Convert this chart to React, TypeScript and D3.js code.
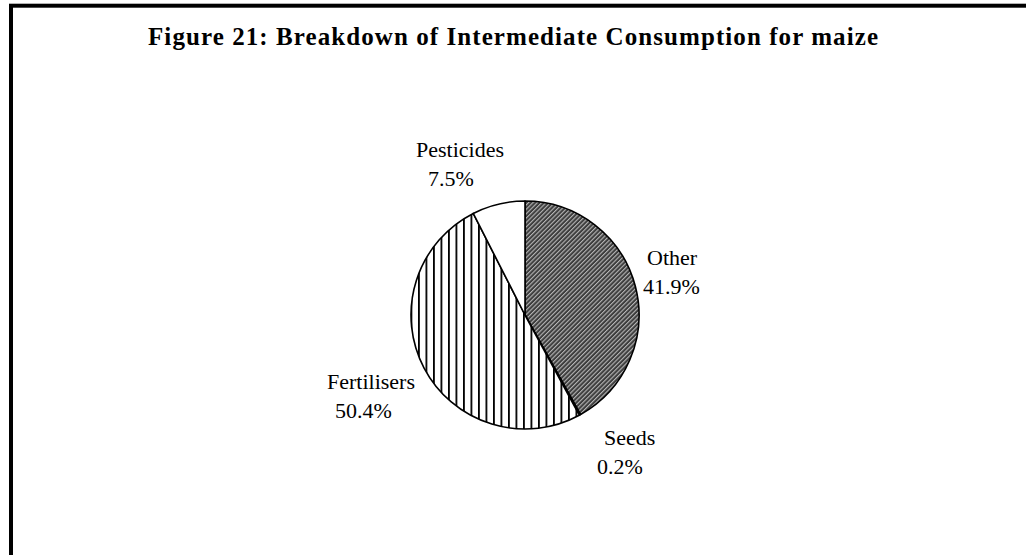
import React from "react";
import * as d3 from "d3";

const TITLE = "Figure 21: Breakdown of Intermediate Consumption for maize";
const categories = ["Other", "Seeds", "Fertilisers", "Pesticides"];
const values = [41.9, 0.2, 50.4, 7.5];
const valueLabels = ["41.9%", "0.2%", "50.4%", "7.5%"];

// layout of the data labels (text positions only)
const LABEL_LAYOUT: Record<string, { x1: number; x2: number; y: number }> = {
  Other: { x1: 647, x2: 643, y: 265 },
  Seeds: { x1: 604, x2: 597, y: 445 },
  Fertilisers: { x1: 327, x2: 335, y: 389 },
  Pesticides: { x1: 416, x2: 428, y: 157 },
};

const W = 1026;
const H = 555;
const CX = 525;
const CY = 315;
const R = 114;

const FILLS: Record<string, string> = {
  Other: "url(#diagHatch)",
  Seeds: "#ffffff",
  Fertilisers: "url(#vertHatch)",
  Pesticides: "#ffffff",
};

export default function App() {
  const data = categories.map((c, i) => ({ name: c, value: values[i], label: valueLabels[i] }));
  const pie = d3
    .pie<{ name: string; value: number; label: string }>()
    .value((d) => d.value)
    .sort(null)
    .startAngle(0)
    .endAngle(2 * Math.PI);
  const arcs = pie(data);
  const arc = d3.arc<d3.PieArcDatum<any>>().innerRadius(0).outerRadius(R);

  return (
    <svg
      width={W}
      height={H}
      style={{ position: "absolute", left: 0, top: 0, background: "#fff" }}
      fontFamily="'Liberation Serif', 'Times New Roman', serif"
    >
      <defs>
        <pattern id="diagHatch" patternUnits="userSpaceOnUse" width={3.1} height={3.1} patternTransform="rotate(45)">
          <rect width={3.1} height={3.1} fill="#3d3d3d" />
          <rect x={0} y={0} width={1.1} height={3.1} fill="#b5b5b5" />
        </pattern>
        <pattern id="vertHatch" patternUnits="userSpaceOnUse" width={7.5} height={10} x={CX - 2}>
          <rect width={7.5} height={10} fill="#fff" />
          <rect x={0} y={0} width={1.8} height={10} fill="#000" />
        </pattern>
      </defs>
      <rect x={0} y={0} width={W} height={H} fill="#fff" />
      <rect x={11} y={5.7} width={1200} height={1000} fill="none" stroke="#000" strokeWidth={4} />
      <text
        x={148}
        y={45}
        fontSize={25}
        fontWeight="bold"
        textLength={730}
        lengthAdjust="spacing"
        fill="#000"
      >
        {TITLE}
      </text>
      <g transform={`translate(${CX},${CY})`}>
        {arcs.map((a) => (
          <path
            key={a.data.name}
            d={arc(a) as string}
            fill={FILLS[a.data.name]}
            stroke="#000"
            strokeWidth={1.6}
            strokeLinejoin="round"
          />
        ))}
      </g>
      {arcs.map((a) => {
        const L = LABEL_LAYOUT[a.data.name];
        return (
          <g key={"l" + a.data.name} fontSize={22} fill="#000">
            <text x={L.x1} y={L.y}>{a.data.name}</text>
            <text x={L.x2} y={L.y + 28.5}>{a.data.label}</text>
          </g>
        );
      })}
    </svg>
  );
}
